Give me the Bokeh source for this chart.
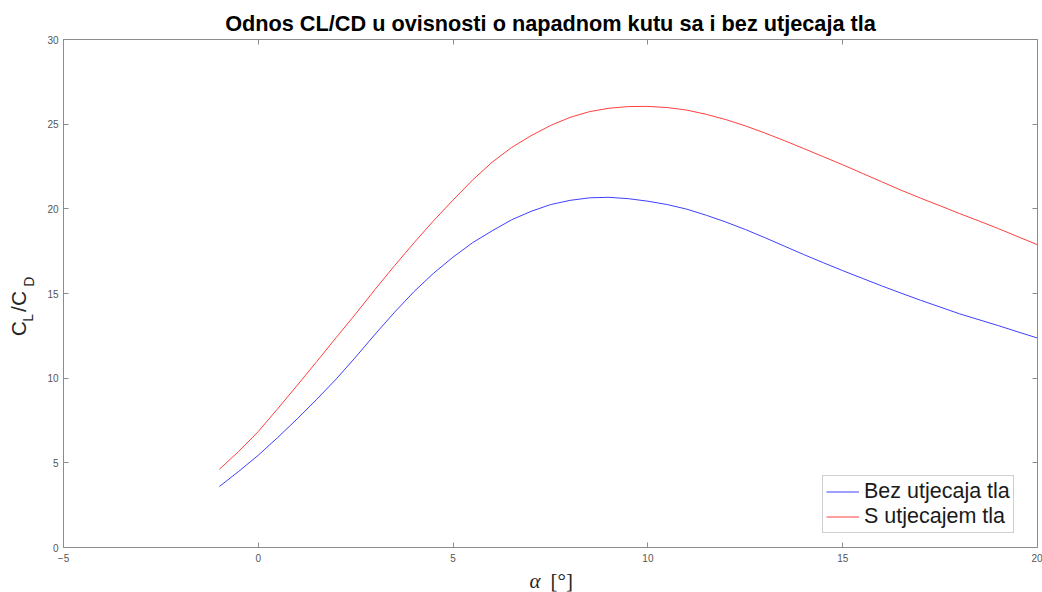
import math
from bokeh.plotting import figure
from bokeh.layouts import row, column
from bokeh.models import LinearAxis, Range1d, Legend, LegendItem, FixedTicker
from bokeh.core.properties import value
from bokeh.embed import file_html
from bokeh.resources import INLINE

# ---- data ----
alpha_bez = [-1, -0.5, 0, 0.5, 1, 1.5, 2, 2.5, 3, 3.5, 4, 4.5, 5, 5.5, 6, 6.5, 7, 7.5, 8, 8.5,
             9, 9.5, 10, 10.5, 11, 11.5, 12, 12.5, 13, 13.5, 14, 14.5, 15, 15.5, 16, 16.5,
             17, 17.5, 18, 18.5, 19, 19.5, 20]
clcd_bez = [3.60, 4.50, 5.45, 6.50, 7.60, 8.75, 9.95, 11.25, 12.60, 13.90, 15.12, 16.20,
            17.15, 18.00, 18.70, 19.35, 19.85, 20.25, 20.50, 20.65, 20.68, 20.60, 20.45,
            20.25, 19.98, 19.62, 19.22, 18.78, 18.30, 17.80, 17.30, 16.82, 16.35, 15.90,
            15.45, 15.02, 14.60, 14.20, 13.80, 13.45, 13.10, 12.73, 12.37]

alpha_s = [-1, -0.5, 0, 0.5, 1, 1.5, 2, 2.5, 3, 3.5, 4, 4.5, 5, 5.5, 6, 6.5, 7, 7.5, 8, 8.5,
           9, 9.5, 10, 10.5, 11, 11.5, 12, 12.5, 13, 13.5, 14, 14.5, 15, 15.5, 16, 16.5,
           17, 17.5, 18, 18.5, 19, 19.5, 20]
clcd_s = [4.62, 5.68, 6.85, 8.20, 9.58, 10.98, 12.40, 13.80, 15.25, 16.65, 18.00, 19.30,
          20.52, 21.70, 22.75, 23.62, 24.32, 24.92, 25.40, 25.74, 25.94, 26.04, 26.05,
          25.98, 25.83, 25.58, 25.27, 24.90, 24.48, 24.03, 23.56, 23.08, 22.60, 22.10,
          21.60, 21.10, 20.63, 20.18, 19.72, 19.28, 18.83, 18.35, 17.88]

x_ticks = [-5, 0, 5, 10, 15, 20]
y_ticks = [0, 5, 10, 15, 20, 25, 30]

title_text = "Odnos CL/CD u ovisnosti o napadnom kutu sa i bez utjecaja tla"
label_bez = "Bez utjecaja tla"
label_s = "S utjecajem tla"
ylabel_big = ["C", "/C"]
ylabel_sub = ["L", "D"]
xlabel_sym = ["α"]
xlabel_unit = ["[°]"]

FONT = "Liberation Sans"
AXIS_COL = "#8c8c8c"
TICK_LABEL_COL = "#555555"
TXT = "#262626"
BLUE = "#4040ff"
RED = "#ff4040"

PH = 565  # main figure height

p = figure(width=998, height=PH, x_range=Range1d(-5, 20), y_range=Range1d(0, 30),
           output_backend="svg", toolbar_location=None,
           min_border_left=18, min_border_right=5, min_border_top=39, min_border_bottom=PH - 547,
           title=title_text)
p.title.text_font = FONT
p.title.text_font_size = "21.7px"
p.title.text_font_style = "bold"
p.title.text_color = "black"
p.title.align = "center"
p.title.standoff = 8
p.outline_line_color = None
p.xgrid.visible = False
p.ygrid.visible = False
p.background_fill_color = "white"
p.border_fill_color = "white"

def style_axis(ax, labels=True):
    ax.axis_line_color = AXIS_COL
    ax.major_tick_line_color = AXIS_COL
    ax.major_tick_in = 5
    ax.major_tick_out = 0
    ax.minor_tick_line_color = None
    ax.major_label_text_font = FONT
    if labels:
        ax.major_label_text_font_size = "10px"
        ax.major_label_text_color = TICK_LABEL_COL
    else:
        ax.major_label_text_font_size = "1px"
        ax.major_label_text_color = None
        ax.major_label_standoff = 0

p.xaxis.ticker = FixedTicker(ticks=x_ticks)
p.yaxis.ticker = FixedTicker(ticks=y_ticks)
style_axis(p.xaxis[0])
style_axis(p.yaxis[0])
p.xaxis.major_label_standoff = 6
p.yaxis.major_label_standoff = 5

top_ax = LinearAxis(ticker=FixedTicker(ticks=x_ticks))
style_axis(top_ax, labels=False)
right_ax = LinearAxis(ticker=FixedTicker(ticks=y_ticks))
style_axis(right_ax, labels=False)
p.add_layout(top_ax, "above")
p.add_layout(right_ax, "right")

r_bez = p.line(alpha_bez, clcd_bez, line_color=BLUE, line_width=1)
r_s = p.line(alpha_s, clcd_s, line_color=RED, line_width=1)

legend = Legend(items=[LegendItem(label=label_bez, renderers=[r_bez]),
                       LegendItem(label=label_s, renderers=[r_s])],
                location=(759, 14))
legend.label_text_font = FONT
legend.label_text_font_size = "21.5px"
legend.label_text_color = "#1a1a1a"
legend.border_line_color = "#a0a0a0"
legend.border_line_width = 1
legend.background_fill_color = "white"
legend.background_fill_alpha = 1
legend.padding = 3
legend.spacing = 0
legend.glyph_width = 33
legend.glyph_height = 25
legend.label_height = 25
legend.label_standoff = 5
legend.margin = 0
p.add_layout(legend)

# ---- helper figure holding the rotated y-axis label C_L/C_D ----
yfig = figure(width=44, height=PH, x_range=Range1d(0, 44), y_range=Range1d(0, PH),
              output_backend="svg", toolbar_location=None, min_border=0,
              x_axis_type=None, y_axis_type=None)
yfig.outline_line_color = None
yfig.xgrid.visible = False
yfig.ygrid.visible = False
yfig.text(x=[17.5, 17.5], y=[PH - 330, PH - 303], text=ylabel_big, angle=math.pi / 2,
          text_font=value(FONT), text_font_size="21px", text_color=TXT,
          text_align="left", text_baseline="middle")
yfig.text(x=[27, 28.5], y=[PH - 314, PH - 275], text=ylabel_sub, angle=math.pi / 2,
          text_font=value(FONT), text_font_size="14px", text_color=TXT,
          text_align="left", text_baseline="middle")

# ---- helper figure holding the x-axis label alpha [deg] ----
XH = 592 - PH
xfig = figure(width=1042, height=XH, x_range=Range1d(0, 1042), y_range=Range1d(0, XH),
              output_backend="svg", toolbar_location=None, min_border=0,
              x_axis_type=None, y_axis_type=None)
xfig.outline_line_color = None
xfig.xgrid.visible = False
xfig.ygrid.visible = False
xfig.text(x=[529], y=[592 - 580], text=xlabel_sym, text_font=value("Liberation Serif"),
          text_font_size="21px", text_font_style="italic", text_color=TXT,
          text_align="left", text_baseline="middle")
xfig.text(x=[550], y=[592 - 580], text=xlabel_unit, text_font=value("Liberation Serif"),
          text_font_size="21px", text_color=TXT,
          text_align="left", text_baseline="middle")

layout = column(row(yfig, p), xfig)
open("out.html", "w").write(file_html(layout, INLINE))
